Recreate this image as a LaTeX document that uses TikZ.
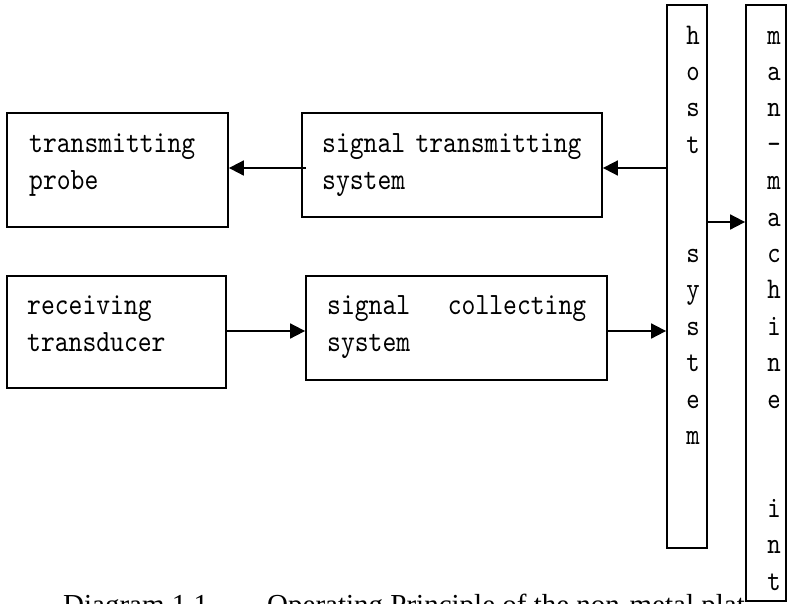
\documentclass[tikz,border=0pt]{standalone}
\usepackage{fontspec}
\usetikzlibrary{arrows.meta}
\newfontfamily\capfont{Liberation Serif}
\newfontfamily\boxfont{lmmono10-regular}[Extension=.otf,FakeStretch=0.85,WordSpace={1,0,0}]
\begin{document}
\begin{tikzpicture}[x=1pt,y=-1pt,
  box/.style={draw, line width=1.8pt, fill=white, inner sep=0pt},
  btext/.style={font=\boxfont\fontsize{31}{37}\selectfont, align=left, inner sep=0pt},
  vlet/.style={font=\boxfont\fontsize{30}{30}\selectfont, inner sep=0pt, anchor=base},
  capt/.style={font=\capfont\fontsize{29}{34}\selectfont, inner sep=0pt, anchor=base west},
  arr/.style={line width=1.8pt, -{Triangle[length=15pt,width=15pt]}}]
\useasboundingbox (0,0) rectangle (787,603);
\clip (0,0) rectangle (787,603);
% caption (cut by the page edge, as in the reference)
\node[capt] (cap1) at (63,614) {Diagram 1.1};
\node[capt] (cap2) at (267,614) {Operating Principle of the non-metal plat};
% boxes
\node[box, minimum width=221pt, minimum height=114pt] (tp) at (117.5,170) {};
\node[box, minimum width=300pt, minimum height=104pt] (sts) at (452,165) {};
\node[box, minimum width=219pt, minimum height=112pt] (rt) at (116.5,332) {};
\node[box, minimum width=301pt, minimum height=104pt] (scs) at (456.5,328) {};
\node[box, minimum width=40pt, minimum height=543pt] (host) at (687,276.5) {};
\node[box, minimum width=40pt, minimum height=596pt] (mmi) at (766,303) {};
% box texts
\node[btext, text width=190pt, anchor=base west] (tpt) at (29,152) {transmitting\\probe};
\node[btext, text width=270pt, anchor=base west] (stst) at (322,152) {signal transmitting\\system};
\node[btext, text width=190pt, anchor=base west] (rtt) at (27,314) {receiving\\transducer};
\node[btext, text width=259pt, anchor=base west] (scst) at (327,314) {signal\hfill collecting\\system};
% vertical letters
\foreach \i/\c in {0/h,1/o,2/s,3/t,6/s,7/y,8/s,9/t,10/e,11/m}
  \node[vlet] (hl\i) at (693,{44+36.4*\i}) {\c};
\foreach \i/\c in {0/m,1/a,2/n,3/–,4/m,5/a,6/c,7/h,8/i,9/n,10/e,13/i,14/n,15/t}
  \node[vlet] (ml\i) at (774,{44+36.4*\i}) {\c};
% connectors
\path (sts.west |- 0,168) ++(5,0) coordinate (s1);
\draw[arr] (s1) -- (tp.east |- s1);
\draw[arr] (host.west |- s1) -- (sts.east |- s1);
\draw[arr] (host.east |- 0,222) -- (mmi.west |- 0,222);
\draw[arr] (rt.east |- 0,331) -- (scs.west |- 0,331);
\draw[arr] (scs.east |- 0,331) -- (host.west |- 0,331);
\end{tikzpicture}
\end{document}
